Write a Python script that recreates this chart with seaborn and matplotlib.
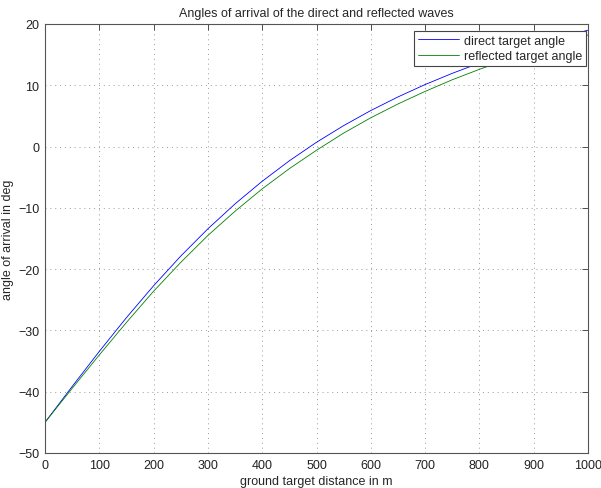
import matplotlib
matplotlib.use("Agg")
import matplotlib.pyplot as plt
import seaborn as sns
import pandas as pd

# values (degrees)
distance = [0, 50, 100, 150, 200, 250, 300, 350, 400, 450, 500,
            550, 600, 650, 700, 750, 800, 850, 900, 950, 1000]
direct_angle = [-45.0, -39.15, -33.42, -27.91, -22.71, -17.87, -13.42, -9.35, -5.66, -2.32, 0.70,
                3.42, 5.88, 8.10, 10.12, 11.95, 13.62, 15.14, 16.53, 17.81, 18.99]
reflected_angle = [-45.0, -39.45, -34.0, -28.7, -23.6, -18.9, -14.5, -10.55, -6.9, -3.6, -0.6,
                   2.2, 4.7, 6.95, 9.0, 10.9, 12.6, 14.2, 15.6, 16.95, 18.2]
series_names = ["direct target angle", "reflected target angle"]
x_ticks = [0, 100, 200, 300, 400, 500, 600, 700, 800, 900, 1000]
y_ticks = [-50, -40, -30, -20, -10, 0, 10, 20]

df = pd.DataFrame({
    "distance": distance * 2,
    "angle": direct_angle + reflected_angle,
    "series": [series_names[0]] * len(distance) + [series_names[1]] * len(distance),
})

sns.set_style("white")
plt.rcParams["font.family"] = ["Liberation Sans", "DejaVu Sans"]
plt.rcParams["font.size"] = 9

fig = plt.figure(figsize=(6.01, 4.89), dpi=100)
ax = fig.add_axes([45 / 601, 1 - 454 / 489, 543 / 601, 429 / 489])

sns.lineplot(data=df, x="distance", y="angle", hue="series",
             palette=["#0000ff", "#008000"], linewidth=0.6, ax=ax, legend=True)

ax.set_xlim(0, 1000)
ax.set_ylim(-50, 20)
ax.set_xticks(x_ticks)
ax.set_yticks(y_ticks)
ax.grid(True, linestyle=(0, (1, 4)), color="#999999", linewidth=0.7)
ax.tick_params(direction="in", length=4, width=0.6, colors="#333333",
               top=True, right=True, labelsize=9, labelcolor="#222222", pad=4)
for s in ax.spines.values():
    s.set_visible(True)
    s.set_color("#555555")
    s.set_linewidth(0.8)

ax.set_title("Angles of arrival of the direct and reflected waves", fontsize=9, pad=6)
ax.set_xlabel("ground target distance in m", fontsize=9, labelpad=3)
ax.set_ylabel("angle of arrival in deg", fontsize=9, labelpad=3)

leg = ax.legend(loc="upper right", bbox_to_anchor=(0.996, 0.984), borderaxespad=0,
                fontsize=9, handlelength=3.3, handletextpad=0.35, labelspacing=0.3,
                borderpad=0.3, fancybox=False, framealpha=1, edgecolor="#444444")
leg.get_frame().set_linewidth(0.8)

fig.savefig("out.png", dpi=100)
